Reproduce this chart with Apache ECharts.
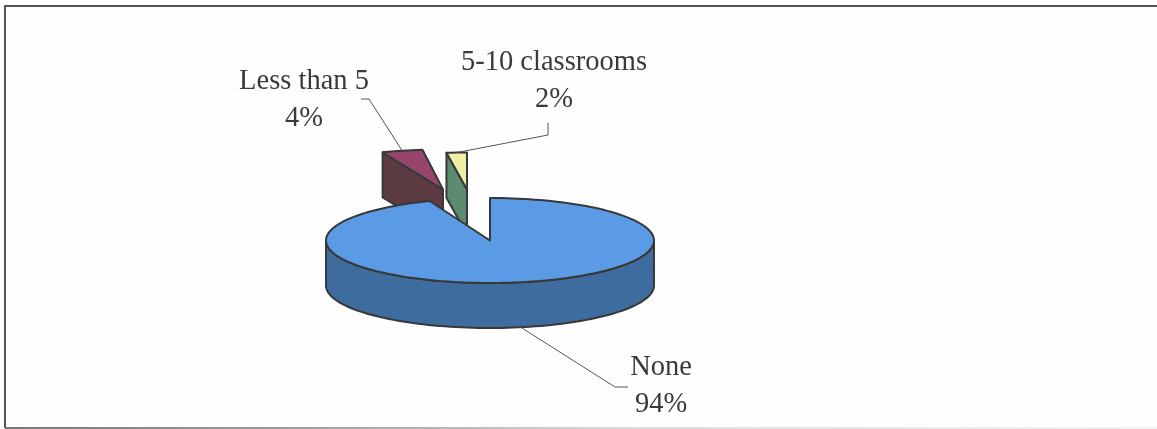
<!DOCTYPE html>
<html>
<head>
<meta charset="utf-8">
<style>html,body{margin:0;padding:0;background:#fefefe}#chart{width:1157px;height:429px}</style>
<script src="https://cdn.jsdelivr.net/npm/echarts@6/dist/echarts.min.js"></script>
</head>
<body>
<div id="chart"></div>
<script>
// Classrooms share, drawn as a tilted pie with a raised rim
const categories = ['None', 'Less than 5', '5-10 classrooms'];
const percents = [94, 4, 2];

const topColors = ['#5b9ae4', '#98456e', '#eff0a6'];
const wallColors = ['#3f6c9f', '#5b3a42', '#5b8b70'];

// Projection of the disc
const disc = { cx: 490, cy: 240.5, rx: 164, ry: 42.5, depth: 45 };
// Pulled-out slices are shifted away from the centre and look slightly flatter
const shift = [[0, 0], [-47, -51], [-23, -51]];
const sliceRy = [42.5, 40, 37];
// Label centres and leader line knees
const labelAt = [[661, 386], [304, 100], [554, 81]];
const leaderEnd = [[[615, 387], [628, 387]], [[369, 99], [361, 99]], [[548, 135], [548, 123]]];

const outline = '#383838';
const total = percents.reduce((a, b) => a + b, 0);
const starts = percents.map((_, i) => percents.slice(0, i).reduce((a, b) => a + b, 0) / total * 360);

function rimPoint(deg, i, drop) {
  const t = deg * Math.PI / 180;
  return [
    disc.cx + shift[i][0] + disc.rx * Math.sin(t),
    disc.cy + shift[i][1] - sliceRy[i] * Math.cos(t) + (drop || 0)
  ];
}

function arc(from, to, i, drop) {
  const pts = [];
  const steps = Math.max(2, Math.ceil(Math.abs(to - from) / 2));
  for (let k = 0; k <= steps; k++) pts.push(rimPoint(from + (to - from) * k / steps, i, drop));
  return pts;
}

function poly(points, fill, z2) {
  return {
    type: 'polygon', z2,
    shape: { points },
    style: { fill, stroke: outline, lineWidth: 2, lineJoin: 'round' }
  };
}

function renderSlice(params, api) {
  const i = params.dataIndex;
  const sweep = api.value(0) / total * 360;
  const a = starts[i], b = a + sweep;
  const apex = [disc.cx + shift[i][0], disc.cy + shift[i][1]];
  const base = i === 0 ? 10 : 1;
  const children = [];

  if (i === 0) {
    // Front of the rim: the half of the ellipse facing the viewer
    const front = arc(90, 270, i, 0).concat(arc(270, 90, i, disc.depth));
    children.push(poly(front, wallColors[i], base));
  } else {
    // Cut face running from the rim to the centre
    const p = rimPoint(a, i, 0);
    const wall = [p, apex, [apex[0], apex[1] + disc.depth], [p[0], p[1] + disc.depth]];
    children.push(poly(wall, wallColors[i], base));
  }
  children.push(poly([apex].concat(arc(a, b, i, 0)), topColors[i], base + 1));

  // Leader line from the middle of the slice's rim to its label
  const mid = a + sweep / 2;
  const anchor = rimPoint(mid, i, i === 0 ? disc.depth : 0);
  children.push({
    type: 'polyline', z2: 20, silent: true,
    shape: { points: [anchor].concat(leaderEnd[i]) },
    style: { fill: 'none', stroke: '#555', lineWidth: 1 }
  });
  children.push({
    type: 'text', z2: 21, x: labelAt[i][0], y: labelAt[i][1],
    style: {
      text: categories[i] + '\n' + api.value(0) + '%',
      fill: '#3a3a3a', font: '28.5px "Liberation Serif"',
      lineHeight: 37, align: 'center', verticalAlign: 'middle'
    }
  });
  return { type: 'group', children };
}

// Frame: solid along the top and left, fading out along the bottom
const frameStroke = '#555';
const chart = echarts.init(document.getElementById('chart'), null, { renderer: 'canvas' });
chart.setOption({
  animation: false,
  backgroundColor: '#fefefe',
  graphic: [
    {
      type: 'polyline', silent: true, z: 0,
      shape: { points: [[1157, 6], [5, 6], [5, 428]] },
      style: { fill: 'none', stroke: frameStroke, lineWidth: 2 }
    },
    {
      type: 'line', silent: true, z: 0,
      shape: { x1: 5, y1: 428, x2: 1157, y2: 428 },
      style: {
        lineWidth: 2,
        stroke: new echarts.graphic.LinearGradient(0, 0, 1, 0, [
          { offset: 0, color: '#777' },
          { offset: 0.3, color: '#a5a5a5' },
          { offset: 0.55, color: '#dddddd' },
          { offset: 1, color: '#f4f4f4' }
        ], false)
      }
    }
  ],
  series: [{
    type: 'custom',
    coordinateSystem: 'none',
    renderItem: renderSlice,
    data: percents.map(v => [v]),
    z: 5
  }]
});
</script>
</body>
</html>
